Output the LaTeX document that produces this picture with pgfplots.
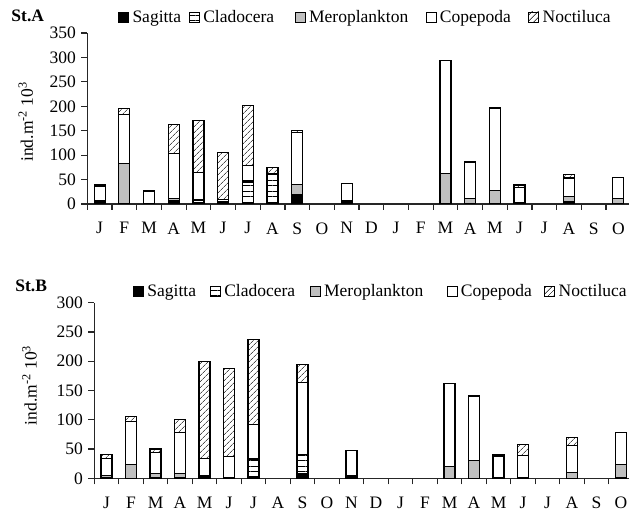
\documentclass[border=0pt]{standalone}
\usepackage{fontspec}
\setmainfont{Liberation Serif}
\usepackage{pgfplots}
\usepackage{pgfplotstable}
\pgfplotsset{compat=1.18}
\usetikzlibrary{patterns.meta}

\pgfplotstableread{
x sag cla mer cop noc
0 0 2 4 30 3
1 0 0 83 100 13
2 0 1 0 24 2
3 2 4 6 92 58
4 2 5 3 55 106
5 1 3 0 6 95
6 2 43 2 31 123
7 2 59 0 2 12
8 20 0 20 107 3
10 1 3 3 35 0
14 0 0 63 230 0
15 0 0 12 73 2
16 0 0 27 168 3
17 1 2 0 31 5
19 3 2 11 37 8
21 0 0 12 42 0
}\dataA

\pgfplotstableread{
x sag cla mer cop noc
0 0 2 3 29 6
1 0 0 23 74 8
2 0 1 7 36 6
3 0 1 7 70 22
4 5 0 0 29 165
5 0 1 0 36 150
6 3 30 0 59 145
8 8 32 0 123 32
10 1 2 2 42 0
14 0 0 20 142 0
15 0 0 30 110 2
16 1 0 0 37 2
17 1 0 0 38 19
19 0 0 10 46 14
21 2 0 21 55 0
}\dataB

\newcommand{\fs}{\fontsize{17.5}{20}\selectfont}
\newcommand{\legent}[2]{\makebox[#1pt][l]{\hspace{3.5pt}#2}}

\pgfplotsset{
  panel/.style={
    scale only axis,
    ybar stacked,
    bar width=11pt,
    xmin=-0.5, xmax=21.5,
    ymin=0,
    axis x line*=bottom,
    axis y line*=left,
    axis line style={line width=1.2pt, black!85, -},
    xtick={-0.5,0.5,...,20.5},
    xticklabels={J,F,M,A,M,J,J,A,S,O,N,D,J,F,M,A,M,J,J,A,S,O},
    xticklabel style={yshift=-9pt, font=\fs},
    yticklabel style={font=\fs, xshift=-2pt},
    /pgf/number format/assume math mode=true,
    tick align=outside,
    major tick length=6pt,
    tick style={line width=1.2pt, black!85},
    ylabel={ind.m\textsuperscript{-2} 10\textsuperscript{3}},
    label style={font=\fs},
    title style={font=\fs\bfseries, anchor=west, yshift=-5pt},
    legend columns=5,
    legend cell align=left,
    legend image code/.code={\draw[#1, line width=0.8pt] (0pt,-5pt) rectangle (10pt,5pt);},
    legend style={draw=none, fill=none, anchor=west, font=\fs,
      inner sep=0pt, /tikz/column sep=0pt,
      nodes={inner xsep=0pt, inner ysep=1.5pt}},
  },
  sag/.style={fill=black, draw=black, line width=1.2pt},
  cla/.style={pattern={Lines[angle=0, distance=5.5pt, line width=1pt]}, pattern color=black, draw=black, line width=1.2pt},
  mer/.style={fill=black!25, draw=black, line width=1.2pt},
  cop/.style={fill=white, draw=black, line width=1.2pt},
  noc/.style={pattern={Lines[angle=45, distance=4pt, line width=0.8pt]}, pattern color=black!70, draw=black, line width=1.2pt},
}

\begin{document}
\begin{tikzpicture}[x=1pt,y=1pt]
\path[use as bounding box] (0,0) rectangle (629,516);

\begin{axis}[panel,
  at={(87.3pt,312pt)}, anchor=south west,
  width=543.4pt, height=171pt,
  ymax=350, ytick={0,50,...,350},
  xticklabel style={xshift=12.35pt},
  ylabel style={at={(axis description cs:-0.113,0.48)}, anchor=center},
  title={St.A},
  title style={at={(axis description cs:-0.146,1.0936)}},
  legend style={at={(axis description cs:0.0565,1.0936)}},
]
\addplot[sag] table[x=x,y=sag]{\dataA};
\addplot[cla] table[x=x,y=cla]{\dataA};
\addplot[mer] table[x=x,y=mer]{\dataA};
\addplot[cop] table[x=x,y=cop]{\dataA};
\addplot[noc] table[x=x,y=noc]{\dataA};
\legend{\legent{60}{Sagitta},\legent{95}{Cladocera},\legent{120}{Meroplankton},\legent{92}{Copepoda},\hspace{3.5pt}Noctiluca}
\end{axis}

\begin{axis}[panel,
  at={(94.3pt,37.7pt)}, anchor=south west,
  width=539pt, height=175.6pt,
  ymax=300, ytick={0,50,...,300},
  xticklabel style={xshift=12.25pt},
  ylabel style={at={(axis description cs:-0.12,0.53)}, anchor=center},
  title={St.B},
  title style={at={(axis description cs:-0.153,1.089)}},
  legend style={at={(axis description cs:0.0718,1.063)}},
]
\addplot[sag] table[x=x,y=sag]{\dataB};
\addplot[cla] table[x=x,y=cla]{\dataB};
\addplot[mer] table[x=x,y=mer]{\dataB};
\addplot[cop] table[x=x,y=cop]{\dataB};
\addplot[noc] table[x=x,y=noc]{\dataB};
\legend{\legent{66}{Sagitta},\legent{89}{Cladocera},\legent{126}{Meroplankton},\legent{87}{Copepoda},\hspace{3.5pt}Noctiluca}
\end{axis}
\end{tikzpicture}
\end{document}
